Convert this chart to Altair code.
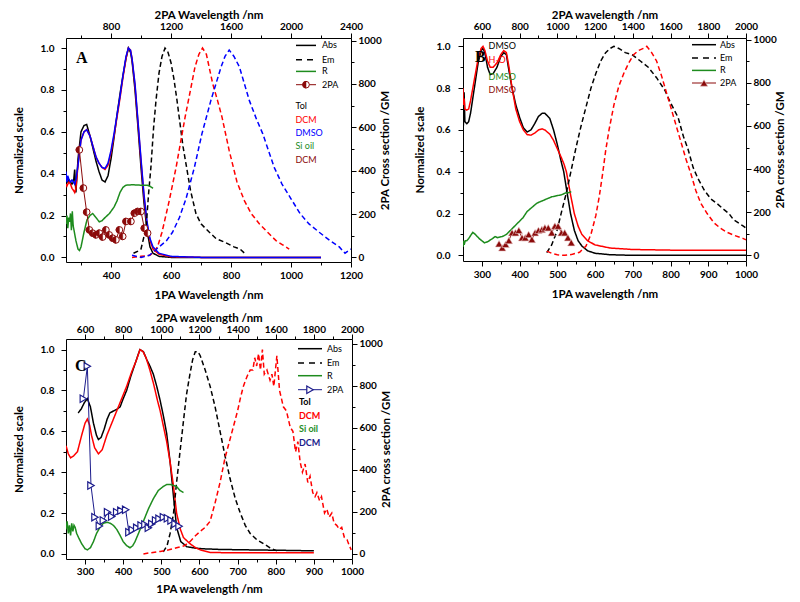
import altair as alt
import pandas as pd

# ---------------- Panel A (Tol / DCM / DMSO / Si oil) ----------------
A_abs_wl = [250, 253, 256, 260, 265, 270, 275, 279, 283, 290, 300, 310, 319, 330, 340, 350, 360, 370, 380, 390,
            400, 410, 420, 430, 440, 450, 458, 465, 470, 480, 490, 500, 510, 520, 530, 540, 560, 600, 700, 800,
            900, 1000, 1100]
A_abs_tol = [0.37, 0.36, 0.36, 0.37, 0.36, 0.35, 0.36, 0.42, 0.31, 0.47, 0.6, 0.63, 0.635, 0.58, 0.52, 0.46, 0.41,
             0.37, 0.36, 0.39, 0.47, 0.57, 0.68, 0.78, 0.87, 0.95, 1.0, 0.98, 0.94, 0.8, 0.62, 0.43, 0.26, 0.13,
             0.05, 0.02, 0.005, 0, 0, 0, 0, 0, 0]
A_abs_dcm = [0.35, 0.34, 0.35, 0.36, 0.35, 0.33, 0.32, 0.31, 0.33, 0.44, 0.56, 0.6, 0.61, 0.58, 0.53, 0.48, 0.45,
             0.43, 0.42, 0.44, 0.5, 0.58, 0.67, 0.76, 0.86, 0.95, 1.0, 0.99, 0.95, 0.82, 0.64, 0.46, 0.29, 0.16,
             0.08, 0.04, 0.015, 0.003, 0, 0, 0, 0, 0]
A_abs_dmso = [0.41, 0.36, 0.39, 0.37, 0.36, 0.37, 0.36, 0.35, 0.37, 0.44, 0.56, 0.6, 0.61, 0.58, 0.53, 0.48, 0.45,
              0.43, 0.425, 0.45, 0.51, 0.59, 0.68, 0.77, 0.87, 0.96, 1.0, 0.99, 0.95, 0.83, 0.65, 0.47, 0.3, 0.17,
              0.09, 0.05, 0.02, 0.005, 0, 0, 0, 0, 0]
A_em_tol_wl = [475, 490, 500, 510, 517, 525, 533, 542, 550, 560, 570, 580, 590, 600, 610, 620, 630, 640, 652, 665,
               683, 700, 728, 750, 783, 810, 830, 845]
A_em_tol = [0.02, 0.03, 0.04, 0.1, 0.14, 0.3, 0.43, 0.62, 0.75, 0.88, 0.96, 1.0, 0.98, 0.93, 0.85, 0.75, 0.64, 0.53,
            0.43, 0.32, 0.21, 0.16, 0.12, 0.09, 0.07, 0.05, 0.04, 0.02]
A_em_dcm_wl = [470, 500, 530, 545, 555, 570, 594, 617, 632, 647, 665, 680, 693, 705, 718, 739, 755, 770, 794, 820,
               845, 867, 895, 922, 950, 972, 994]
A_em_dcm = [0.0, 0.005, 0.01, 0.03, 0.05, 0.12, 0.27, 0.43, 0.55, 0.67, 0.8, 0.91, 0.97, 1.0, 0.97, 0.83, 0.75, 0.67,
            0.51, 0.36, 0.27, 0.21, 0.16, 0.12, 0.08, 0.06, 0.04]
A_em_dmso_wl = [470, 500, 528, 560, 585, 605, 628, 650, 678, 703, 733, 767, 780, 794, 810, 828, 861, 885, 906, 925,
                944, 970, 1000, 1030, 1060, 1094, 1130, 1161, 1180, 1200]
A_em_dmso = [0.01, 0.0, 0.01, 0.05, 0.08, 0.12, 0.19, 0.28, 0.43, 0.59, 0.75, 0.91, 0.96, 0.99, 0.96, 0.91, 0.75,
             0.66, 0.59, 0.51, 0.43, 0.35, 0.28, 0.21, 0.16, 0.12, 0.08, 0.05, 0.02, 0.04]
A_r_wl = [250, 253, 256, 259, 262, 265, 268, 271, 274, 278, 283, 290, 295, 300, 310, 320, 330, 339, 350, 361, 370,
          380, 395, 410, 420, 430, 440, 450, 470, 500, 520, 530, 540]
A_r_oil = [0.16, 0.2, 0.14, 0.19, 0.17, 0.21, 0.13, 0.22, 0.15, 0.12, 0.08, 0.04, 0.033, 0.05, 0.12, 0.18, 0.2, 0.21,
           0.19, 0.17, 0.175, 0.19, 0.21, 0.24, 0.27, 0.31, 0.335, 0.345, 0.347, 0.345, 0.345, 0.34, 0.33]
A_tpa_wl = [589, 616, 638, 656, 678, 700, 722, 744, 766, 788, 811, 833, 856, 878, 900, 933, 956, 978, 1000, 1022, 1044]
A_tpa_gm = [496, 320, 209, 127, 112, 104, 112, 94, 127, 104, 89, 81, 127, 97, 166, 166, 204, 212, 212, 135, 112]

# ---------------- Panel B (DMSO / H2O) ----------------
B_abs_wl = [250, 251, 253, 255, 260, 265, 270, 280, 290, 298, 303, 308, 315, 322, 330, 340, 350, 358, 365, 372, 380,
            390, 400, 410, 420, 430, 440, 450, 460, 467, 480, 490, 500, 510, 517, 524, 535, 545, 555, 565, 580, 600,
            640, 700, 800, 900, 1000]
B_abs_dmso = [0.85, 0.62, 0.78, 0.64, 0.63, 0.64, 0.68, 0.8, 0.92, 0.98, 0.99, 0.97, 0.9, 0.865, 0.87, 0.9, 0.95,
              0.97, 0.96, 0.88, 0.8, 0.72, 0.66, 0.61, 0.59, 0.6, 0.63, 0.665, 0.68, 0.68, 0.655, 0.6, 0.53, 0.45,
              0.4, 0.32, 0.2, 0.12, 0.07, 0.045, 0.022, 0.01, 0.003, 0.0, 0.0, 0.0, 0.0]
B_abs_h2o = [0.8, 0.72, 0.75, 0.7, 0.695, 0.7, 0.74, 0.84, 0.94, 0.99, 1.0, 0.98, 0.93, 0.9, 0.9, 0.92, 0.96, 0.98,
             0.97, 0.9, 0.8, 0.7, 0.64, 0.6, 0.578, 0.575, 0.585, 0.6, 0.605, 0.6, 0.58, 0.55, 0.51, 0.47, 0.44, 0.4,
             0.29, 0.2, 0.14, 0.1, 0.07, 0.05, 0.035, 0.028, 0.025, 0.025, 0.025]
B_em_dmso_wl = [472, 485, 498, 510, 524, 537, 550, 563, 576, 589, 602, 615, 628, 640, 650, 663, 680, 698, 720, 741,
                763, 785, 800, 820, 834, 846, 860, 872, 890, 907, 925, 941, 955, 967, 980, 993, 1000]
B_em_dmso = [0.013, 0.05, 0.11, 0.2, 0.3, 0.41, 0.52, 0.62, 0.71, 0.8, 0.87, 0.93, 0.97, 0.99, 1.0, 0.99, 0.97, 0.96,
             0.93, 0.9, 0.85, 0.79, 0.73, 0.66, 0.57, 0.51, 0.42, 0.37, 0.31, 0.27, 0.245, 0.22, 0.2, 0.17, 0.155,
             0.14, 0.13]
B_em_h2o_wl = [472, 485, 500, 520, 540, 559, 576, 589, 602, 611, 620, 628, 637, 650, 663, 676, 689, 702, 715, 728,
               737, 750, 763, 776, 789, 802, 815, 828, 841, 854, 867, 880, 897, 915, 932, 950, 970, 993, 1000]
B_em_h2o = [0.02, 0.01, 0.003, 0.0, 0.005, 0.015, 0.045, 0.1, 0.19, 0.28, 0.39, 0.5, 0.6, 0.72, 0.81, 0.87, 0.92,
            0.96, 0.98, 0.99, 1.0, 0.97, 0.93, 0.86, 0.78, 0.7, 0.62, 0.54, 0.46, 0.39, 0.31, 0.25, 0.2, 0.156, 0.13,
            0.11, 0.095, 0.08, 0.075]
B_r_wl = [250, 251, 253, 256, 260, 265, 272, 276, 283, 293, 300, 307, 315, 328, 335, 341, 354, 365, 376, 387, 398,
          409, 420, 433, 446, 459, 472, 485, 498, 511, 524, 530, 537]
B_r_dmso = [0.04, 0.07, 0.05, 0.07, 0.07, 0.08, 0.1, 0.11, 0.1, 0.08, 0.07, 0.06, 0.065, 0.08, 0.09, 0.085, 0.09,
            0.1, 0.12, 0.14, 0.16, 0.18, 0.21, 0.23, 0.25, 0.26, 0.27, 0.28, 0.285, 0.29, 0.3, 0.3, 0.305]
B_tpa_wl = [691, 708, 726, 743, 760, 778, 796, 813, 830, 848, 865, 882, 900, 918, 934, 952, 970, 987, 1004, 1022,
            1039, 1056, 1074]
B_tpa_gm = [54, 35, 51, 69, 105, 105, 116, 82, 82, 97, 74, 105, 116, 120, 128, 128, 105, 136, 136, 105, 105, 82, 59]

# ---------------- Panel C (Tol / DCM / Si oil) ----------------
C_abs_tol_wl = [282, 290, 298, 306, 314, 322, 330, 335, 342, 350, 358, 365, 375, 385, 392, 400, 409, 420, 431, 440,
                444, 453, 462, 470, 479, 488, 497, 506, 514, 523, 532, 540, 551, 567, 590, 610, 650, 715, 800, 900]
C_abs_tol = [0.69, 0.71, 0.74, 0.76, 0.72, 0.64, 0.58, 0.56, 0.57, 0.61, 0.66, 0.69, 0.7, 0.71, 0.72, 0.76, 0.8,
             0.87, 0.93, 0.98, 1.0, 0.99, 0.95, 0.92, 0.88, 0.82, 0.75, 0.67, 0.59, 0.45, 0.28, 0.13, 0.06, 0.035,
             0.028, 0.025, 0.022, 0.02, 0.018, 0.015]
C_abs_dcm_wl = [250, 256, 262, 270, 280, 291, 300, 306, 312, 317, 325, 335, 345, 357, 370, 383, 396, 409, 422, 435,
                444, 452, 460, 470, 480, 490, 497, 506, 514, 523, 532, 540, 550, 558, 575, 590, 602, 628, 700, 800,
                900]
C_abs_dcm = [0.53, 0.49, 0.47, 0.48, 0.5, 0.58, 0.64, 0.66, 0.63, 0.58, 0.52, 0.49, 0.51, 0.58, 0.64, 0.7, 0.76,
             0.82, 0.89, 0.95, 1.0, 0.99, 0.96, 0.9, 0.83, 0.75, 0.7, 0.62, 0.55, 0.45, 0.33, 0.2, 0.12, 0.08, 0.05,
             0.03, 0.02, 0.007, 0.005, 0.005, 0.005]
C_em_tol_wl = [505, 515, 523, 532, 540, 549, 558, 566, 575, 582, 589, 596, 602, 615, 628, 641, 654, 667, 680, 694,
               707, 720, 733, 750, 768, 785, 803]
C_em_tol = [0.01, 0.04, 0.1, 0.2, 0.35, 0.5, 0.65, 0.78, 0.88, 0.95, 0.99, 0.99, 0.97, 0.9, 0.82, 0.72, 0.6, 0.48,
            0.37, 0.27, 0.2, 0.14, 0.1, 0.07, 0.05, 0.03, 0.015]
C_em_dcm_wl = [453, 470, 497, 520, 540, 560, 575, 590, 602, 615, 628, 641, 654, 667, 680, 690, 700, 707, 715, 725,
               733, 740, 745, 750, 755, 760, 765, 770, 777, 785, 790, 795, 803, 810, 815, 820, 828, 838, 845, 852,
               858, 864, 870, 877, 884, 890, 897, 903, 908, 915, 920, 928, 934, 940, 947, 953, 960, 967, 973, 980,
               987, 993, 998]
C_em_dcm = [0.0, 0.005, 0.012, 0.02, 0.03, 0.04, 0.06, 0.09, 0.11, 0.13, 0.16, 0.25, 0.35, 0.47, 0.56, 0.63, 0.7,
            0.76, 0.82, 0.87, 0.9, 0.9, 0.96, 0.92, 0.98, 0.9, 1.0, 0.88, 0.9, 0.85, 0.88, 0.82, 0.97, 0.8, 0.76,
            0.72, 0.7, 0.62, 0.6, 0.5, 0.55, 0.45, 0.4, 0.44, 0.35, 0.38, 0.3, 0.28, 0.3, 0.26, 0.28, 0.2, 0.22,
            0.18, 0.2, 0.15, 0.14, 0.12, 0.13, 0.08, 0.07, 0.04, 0.02]
C_r_wl = [250, 253, 256, 259, 262, 265, 268, 271, 274, 278, 283, 291, 300, 306, 314, 322, 330, 339, 348, 357, 366,
          374, 383, 392, 400, 409, 418, 425, 431, 440, 453, 466, 479, 492, 505, 514, 523, 532, 540, 549, 558]
C_r_oil = [0.12, 0.16, 0.1, 0.14, 0.09, 0.15, 0.11, 0.14, 0.13, 0.1, 0.08, 0.05, 0.025, 0.02, 0.03, 0.06, 0.1, 0.13,
           0.15, 0.155, 0.15, 0.14, 0.12, 0.09, 0.06, 0.04, 0.03, 0.04, 0.06, 0.1, 0.16, 0.22, 0.27, 0.31, 0.33,
           0.34, 0.34, 0.335, 0.33, 0.31, 0.3]
C_tpa_wl = [591, 612, 631, 652, 675, 696, 718, 740, 766, 788, 813, 830, 848, 871, 894, 914, 932, 950, 970, 988, 1011,
            1032, 1051, 1072, 1093]
C_tpa_gm = [738, 892, 325, 175, 133, 159, 198, 178, 198, 206, 210, 103, 114, 124, 135, 140, 124, 143, 159, 167, 175,
            170, 159, 143, 132]

# ---------------- styling ----------------
BLACK, RED, BLUE, GREEN = "#000000", "#FF0000", "#0000FF", "#1E8C1E"
DARKRED, NAVY = "#8B0A0A", "#1C1C8C"
FONT = "Lato"
ONE = pd.DataFrame({"k": [0]})
SOLID, DASH = [1, 0], [5, 3]


def tick_axis(orient, values, test, title, fmt="d", **kw):
    args = dict(orient=orient, values=values, title=title, grid=False, format=fmt,
                labelOverlap=False, labelFlush=False,
                labelExpr="(" + test + ") ? datum.label : ''",
                tickSize={"condition": {"test": test, "value": 5}, "value": 3})
    args.update(kw)
    return alt.Axis(**args)


def curves_layer(curves, xdom, ydom, xaxis, yaxis):
    frames, keys, colors, dashes = [], [], [], []
    for key, wl, v, color, dash in curves:
        frames.append(pd.DataFrame({"wl": wl, "v": v, "key": key}))
        keys.append(key)
        colors.append(color)
        dashes.append(dash)
    df = pd.concat(frames, ignore_index=True)
    return alt.Chart(df).mark_line(strokeWidth=1.5, clip=True).encode(
        x=alt.X("wl:Q", scale=alt.Scale(domain=xdom, nice=False, zero=False), axis=xaxis),
        y=alt.Y("v:Q", scale=alt.Scale(domain=ydom, nice=False, zero=False), axis=yaxis),
        color=alt.Color("key:N", scale=alt.Scale(domain=keys, range=colors), legend=None),
        strokeDash=alt.StrokeDash("key:N", scale=alt.Scale(domain=keys, range=dashes), legend=None),
    )


def tpa_layer(wl2, gm, x2dom, rdom, xaxis, yaxis, line_color, point_specs):
    df = pd.DataFrame({"wl2": wl2, "gm": gm})
    base = alt.Chart(df).encode(
        x=alt.X("wl2:Q", scale=alt.Scale(domain=x2dom, nice=False, zero=False), axis=xaxis),
        y=alt.Y("gm:Q", scale=alt.Scale(domain=rdom, nice=False, zero=False), axis=yaxis),
    )
    layers = [base.mark_line(color=line_color, strokeWidth=1)]
    for spec in point_specs:
        layers.append(base.mark_point(**spec))
    return alt.layer(*layers)


def txt(label, x, y, color=BLACK, size=9, weight="normal", font=FONT):
    return alt.Chart(ONE).mark_text(text=label, color=color, fontSize=size, fontWeight=weight, font=font,
                                    align="left", baseline="middle").encode(x=alt.value(x), y=alt.value(y))


def seg(x1, x2, y, color, dash=None, width=1.5):
    kw = dict(color=color, strokeWidth=width)
    if dash:
        kw["strokeDash"] = dash
    return alt.Chart(ONE).mark_rule(**kw).encode(x=alt.value(x1), x2=alt.value(x2), y=alt.value(y))


def sym(x, y, spec):
    return alt.Chart(ONE).mark_point(**spec).encode(x=alt.value(x), y=alt.value(y))


def legend(x1, x2, xt, rows, tpa_color, tpa_specs):
    out = [
        seg(x1, x2, rows[0], BLACK), txt("Abs", xt, rows[0]),
        seg(x1, x2, rows[1], BLACK, dash=[6, 5]), txt("Em", xt, rows[1]),
        seg(x1, x2, rows[2], GREEN), txt("R", xt, rows[2]),
        seg(x1, x2, rows[3], tpa_color, width=1), txt("2PA", xt, rows[3]),
    ]
    for spec in tpa_specs:
        out.append(sym((x1 + x2) / 2, rows[3], spec))
    return out


y_major = "round(datum.value * 10) % 2 == 0"
gm_major = "datum.value % 200 == 0"

# ---- marker styles ----
A_pts = [dict(shape="circle", size=45, filled=True, fill="#FFFFFF", stroke=DARKRED, strokeWidth=1, opacity=1),
         dict(shape="M0,-1A1,1,0,0,0,0,1Z", size=45, filled=True, fill=DARKRED, stroke=DARKRED, strokeWidth=0.5,
              opacity=1)]
B_pts = [dict(shape="triangle-up", size=55, filled=True, fill=DARKRED, stroke="#E8C8C8", strokeWidth=0.6, opacity=1)]
C_pts = [dict(shape="triangle-right", size=55, filled=True, fill="#FFFFFF", stroke=NAVY, strokeWidth=1.2, opacity=1)]

# ---------------- Panel A ----------------
A_ydom = [-0.022, 1.048]
A_rdom = [-21, 1012]
A_curves = curves_layer(
    [("A abs Tol", A_abs_wl, A_abs_tol, BLACK, SOLID),
     ("A abs DCM", A_abs_wl, A_abs_dcm, RED, SOLID),
     ("A abs DMSO", A_abs_wl, A_abs_dmso, BLUE, SOLID),
     ("A em Tol", A_em_tol_wl, A_em_tol, BLACK, DASH),
     ("A em DCM", A_em_dcm_wl, A_em_dcm, RED, DASH),
     ("A em DMSO", A_em_dmso_wl, A_em_dmso, BLUE, DASH),
     ("A R Si oil", A_r_wl, A_r_oil, GREEN, SOLID)],
    [250, 1200], A_ydom,
    tick_axis("bottom", list(range(300, 1201, 100)), "datum.value % 200 == 0", "1PA Wavelength /nm",
              labelPadding=3, titlePadding=9),
    tick_axis("left", [i / 10 for i in range(11)], y_major, "Normalized scale", fmt=".1f",
              labelPadding=7, titlePadding=16),
)
A_tpa = tpa_layer(
    A_tpa_wl, A_tpa_gm, [500, 2400], A_rdom,
    tick_axis("top", list(range(600, 2401, 200)), "datum.value % 400 == 0", "2PA Wavelength /nm",
              labelPadding=2, titlePadding=1),
    tick_axis("right", list(range(0, 1001, 100)), gm_major, "2PA Cross section /GM",
              labelPadding=2, titlePadding=9, titleAngle=270),
    DARKRED, A_pts)
A_deco = legend(230, 250, 256, [7.4, 21.7, 33.4, 46.7], DARKRED, A_pts) + [
    txt("Tol", 229.5, 68.4, BLACK), txt("DCM", 229.5, 81.7, RED), txt("DMSO", 229.5, 95, BLUE),
    txt("Si oil", 229.5, 108.4, GREEN), txt("DCM", 229.5, 121.7, DARKRED),
    txt("A", 10, 20, BLACK, size=16, weight="bold", font="Liberation Serif"),
]
panelA = alt.layer(A_curves, A_tpa, *A_deco).resolve_scale(x="independent", y="independent").properties(
    width=285, height=224)

# ---------------- Panel B ----------------
B_ydom = [-0.027, 1.04]
B_rdom = [-26, 1008]
B_curves = curves_layer(
    [("B abs DMSO", B_abs_wl, B_abs_dmso, BLACK, SOLID),
     ("B abs H2O", B_abs_wl, B_abs_h2o, RED, SOLID),
     ("B em DMSO", B_em_dmso_wl, B_em_dmso, BLACK, DASH),
     ("B em H2O", B_em_h2o_wl, B_em_h2o, RED, DASH),
     ("B R DMSO", B_r_wl, B_r_dmso, GREEN, SOLID)],
    [250, 1000], B_ydom,
    tick_axis("bottom", list(range(300, 1001, 50)), "datum.value % 100 == 0", "1PA wavelength /nm",
              labelPadding=3, titlePadding=9),
    tick_axis("left", [i / 10 for i in range(11)], y_major, "Normalized scale", fmt=".1f",
              labelPadding=8, titlePadding=11),
)
B_tpa = tpa_layer(
    B_tpa_wl, B_tpa_gm, [500, 2000], B_rdom,
    tick_axis("top", list(range(600, 2001, 100)), "datum.value % 200 == 0", "2PA wavelength /nm",
              labelPadding=2, titlePadding=1),
    tick_axis("right", list(range(0, 1001, 100)), gm_major, "2PA cross section /GM",
              labelPadding=2, titlePadding=9, titleAngle=270),
    DARKRED, B_pts)
B_deco = legend(229, 253, 257, [6.7, 20, 32.4, 45], DARKRED, B_pts) + [
    txt("DMSO", 25.6, 8.4, BLACK), txt("H₂O", 25.6, 22.4, RED), txt("DMSO", 25.6, 39, GREEN),
    txt("DMSO", 25.6, 52.4, DARKRED),
    txt("B", 12, 18.5, BLACK, size=16, weight="bold", font="Liberation Serif"),
]
panelB = alt.layer(B_curves, B_tpa, *B_deco).resolve_scale(x="independent", y="independent").properties(
    width=283, height=223)

# ---------------- Panel C ----------------
C_ydom = [-0.025, 1.052]
C_rdom = [-24, 1022]
C_curves = curves_layer(
    [("C abs Tol", C_abs_tol_wl, C_abs_tol, BLACK, SOLID),
     ("C abs DCM", C_abs_dcm_wl, C_abs_dcm, RED, SOLID),
     ("C em Tol", C_em_tol_wl, C_em_tol, BLACK, DASH),
     ("C em DCM", C_em_dcm_wl, C_em_dcm, RED, DASH),
     ("C R Si oil", C_r_wl, C_r_oil, GREEN, SOLID)],
    [250, 1000], C_ydom,
    tick_axis("bottom", list(range(300, 1001, 50)), "datum.value % 100 == 0", "1PA wavelength /nm",
              labelPadding=2, titlePadding=7),
    tick_axis("left", [i / 10 for i in range(11)], y_major, "Normalized scale", fmt=".1f",
              labelPadding=7, titlePadding=16),
)
C_tpa = tpa_layer(
    C_tpa_wl, C_tpa_gm, [500, 2000], C_rdom,
    tick_axis("top", list(range(600, 2001, 100)), "datum.value % 200 == 0", "2PA wavelength /nm",
              labelPadding=0, titlePadding=1),
    tick_axis("right", list(range(0, 1001, 100)), gm_major, "2PA cross section /GM",
              labelPadding=2, titlePadding=9, titleAngle=270),
    NAVY, C_pts)
C_deco = legend(232, 256, 261, [9.7, 24, 36.7, 50.7], NAVY, C_pts) + [
    txt("Tol", 233, 63.4, BLACK, weight="bold"), txt("DCM", 233, 77.4, RED, weight="bold"),
    txt("Si oil", 233, 90, GREEN, weight="bold"), txt("DCM", 233, 104, NAVY, weight="bold"),
    txt("C", 9, 27, BLACK, size=16, weight="bold", font="Liberation Serif"),
]
panelC = alt.layer(C_curves, C_tpa, *C_deco).resolve_scale(x="independent", y="independent").properties(
    width=286, height=220)

top_row = alt.hconcat(panelA, panelB, spacing=21).resolve_scale(color="independent", strokeDash="independent")

chart = alt.vconcat(
    top_row,
    panelC, spacing=10,
).resolve_scale(color="independent", strokeDash="independent").properties(
    padding={"left": 4, "top": 0, "right": 0, "bottom": 0},
    background="white",
).configure_view(stroke="transparent").configure_axis(
    domainColor=BLACK, tickColor=BLACK, labelColor=BLACK, titleColor=BLACK,
    labelFont=FONT, titleFont=FONT, labelFontSize=10, titleFontSize=11.5,
    labelFontWeight="bold", titleFontWeight="bold", domainWidth=1, tickWidth=1,
)

chart.save("out.html", embed_options={"renderer": "svg", "actions": False})
